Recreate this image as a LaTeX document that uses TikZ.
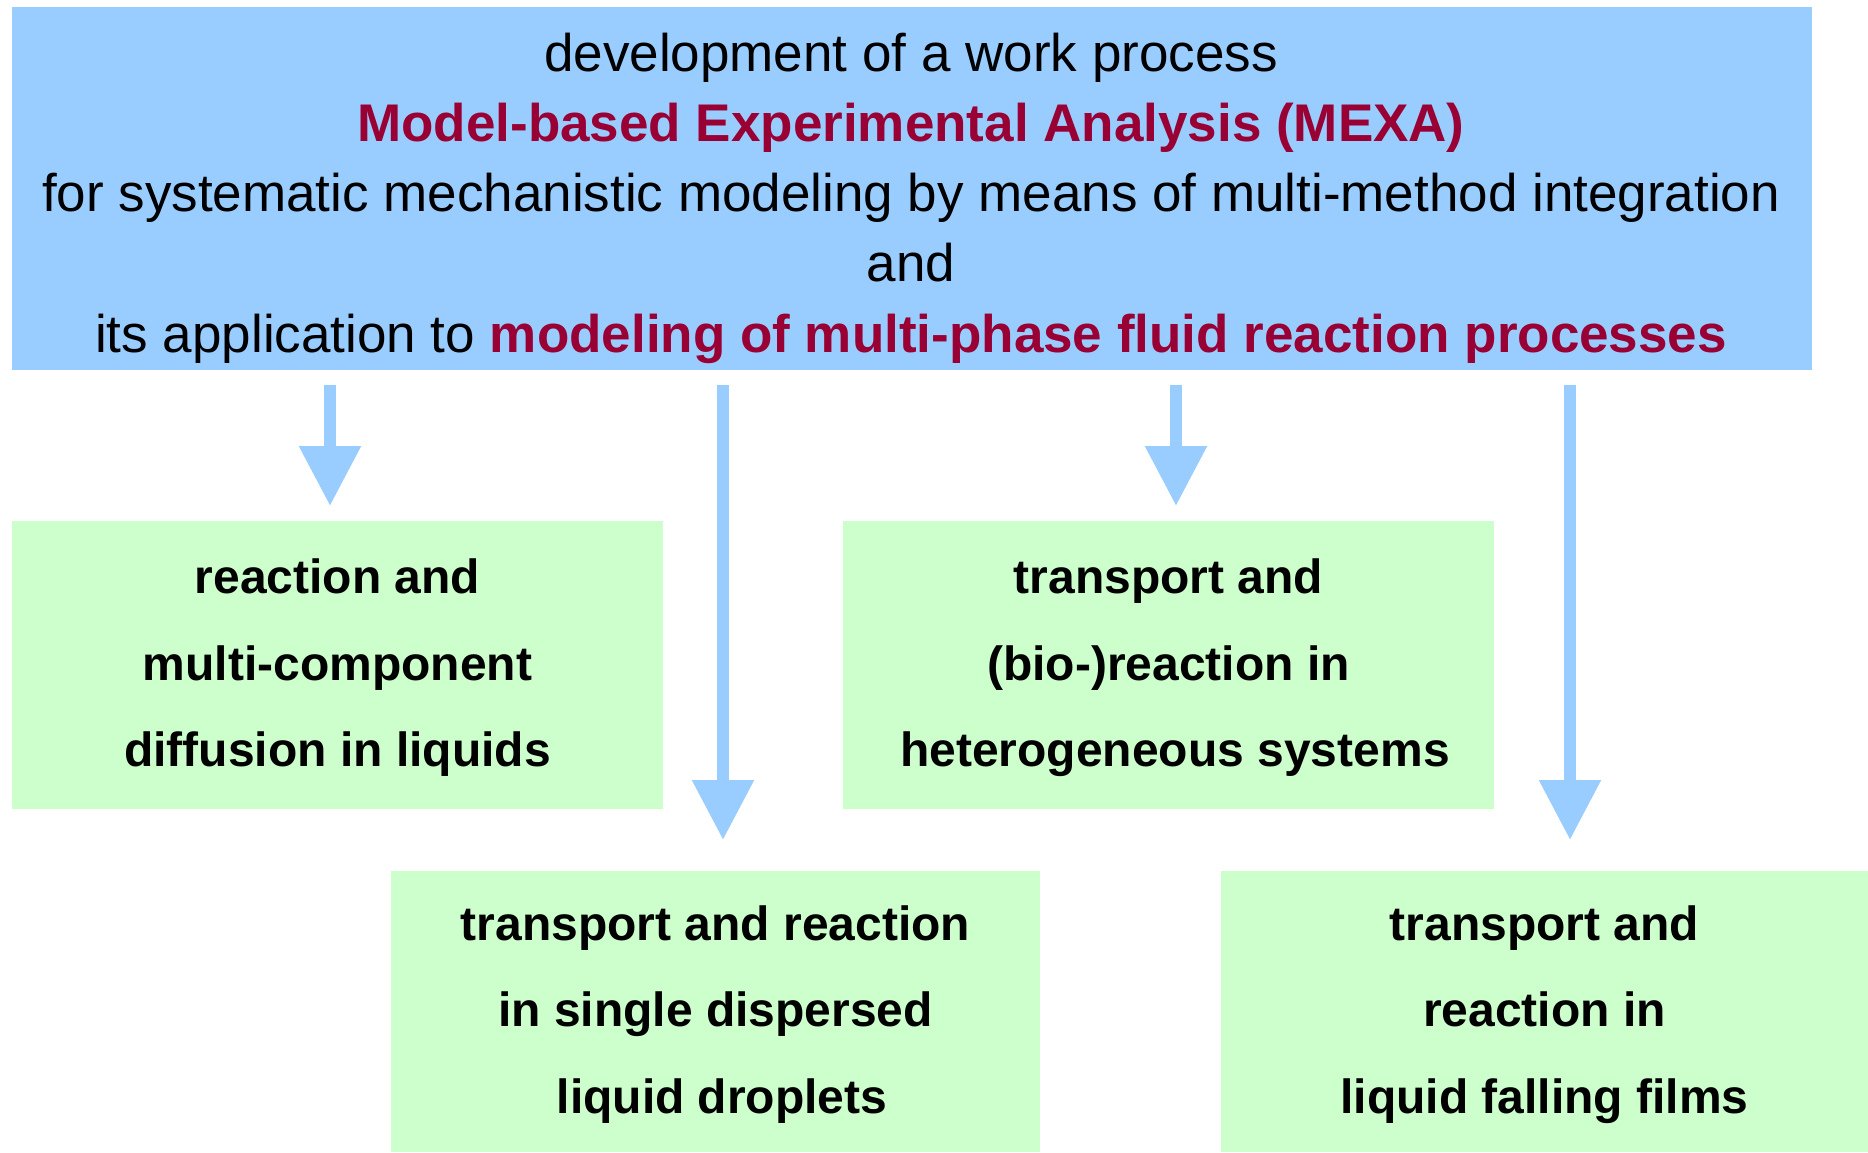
\documentclass[tikz,border=0pt]{standalone}
\usepackage{fontspec}
\setmainfont{Liberation Sans}
\usetikzlibrary{arrows.meta}
\definecolor{skyblue}{HTML}{99CCFF}
\definecolor{mintgreen}{HTML}{CCFFCC}
\definecolor{wine}{HTML}{990033}
\begin{document}
\begin{tikzpicture}[x=1pt,y=-1pt,
  headbox/.style={fill=skyblue,draw=none,inner sep=0pt,outer sep=0pt,
    minimum width=1800pt,minimum height=363pt},
  headtext/.style={align=center,inner sep=0pt,font=\fontsize{53}{70.25}\selectfont},
  topicbox/.style={fill=mintgreen,draw=none,inner sep=0pt,outer sep=0pt,
    minimum height=288pt},
  topictext/.style={align=center,inner sep=0pt,
    font=\fontsize{48}{86.5}\selectfont\bfseries},
  flow/.style={draw=skyblue,line width=12pt,
    -{Triangle[width=59pt,length=60pt]},shorten <=15pt,shorten >=15pt},
  longflow/.style={flow,shorten >=31pt}]
\useasboundingbox (0,0) rectangle (1868,1152);

% overall aim
\node[headbox] (top) at (912,188.5) {};
\node[headtext] (toptext) at (911,198) {development of a work process\\
  \textcolor{wine}{\bfseries Model-based Experimental Analysis (MEXA)}\\
  for systematic mechanistic modeling by means of multi-method integration\\
  and\\
  its application to \textcolor{wine}{\bfseries modeling of multi-phase fluid reaction processes}};

% application areas
\node[topicbox,minimum width=651pt] (b1) at (337.5,665) {};
\node[topicbox,minimum width=651pt] (b3) at (1168.5,665) {};
\node[topicbox,minimum width=649pt,minimum height=281pt] (b2) at (715.5,1011.5) {};
\node[topicbox,minimum width=647pt,minimum height=281pt] (b4) at (1544.5,1011.5) {};
\node[topictext] (t1) at ([yshift=-3pt]b1.center) {reaction and\\multi-component\\diffusion in liquids};
\node[topictext] (t3) at ([yshift=-3pt]b3.center) {transport and\\(bio-)reaction in\\\hspace*{13pt}heterogeneous systems};
\node[topictext] (t2) at ([yshift=-3pt]b2.center) {transport and reaction\\in single dispersed\\\hspace*{13pt}liquid droplets};
\node[topictext] (t4) at ([yshift=-3pt]b4.center) {transport and\\reaction in\\liquid falling films};

% arrow columns
\coordinate (c1) at (330,0);
\coordinate (c2) at (723,0);
\coordinate (c3) at (1176,0);
\coordinate (c4) at (1570,0);
\draw[flow] (top.south -| c1) -- (b1.north -| c1);
\draw[longflow] (top.south -| c2) -- (b2.north -| c2);
\draw[flow] (top.south -| c3) -- (b3.north -| c3);
\draw[longflow] (top.south -| c4) -- (b4.north -| c4);
\end{tikzpicture}
\end{document}
